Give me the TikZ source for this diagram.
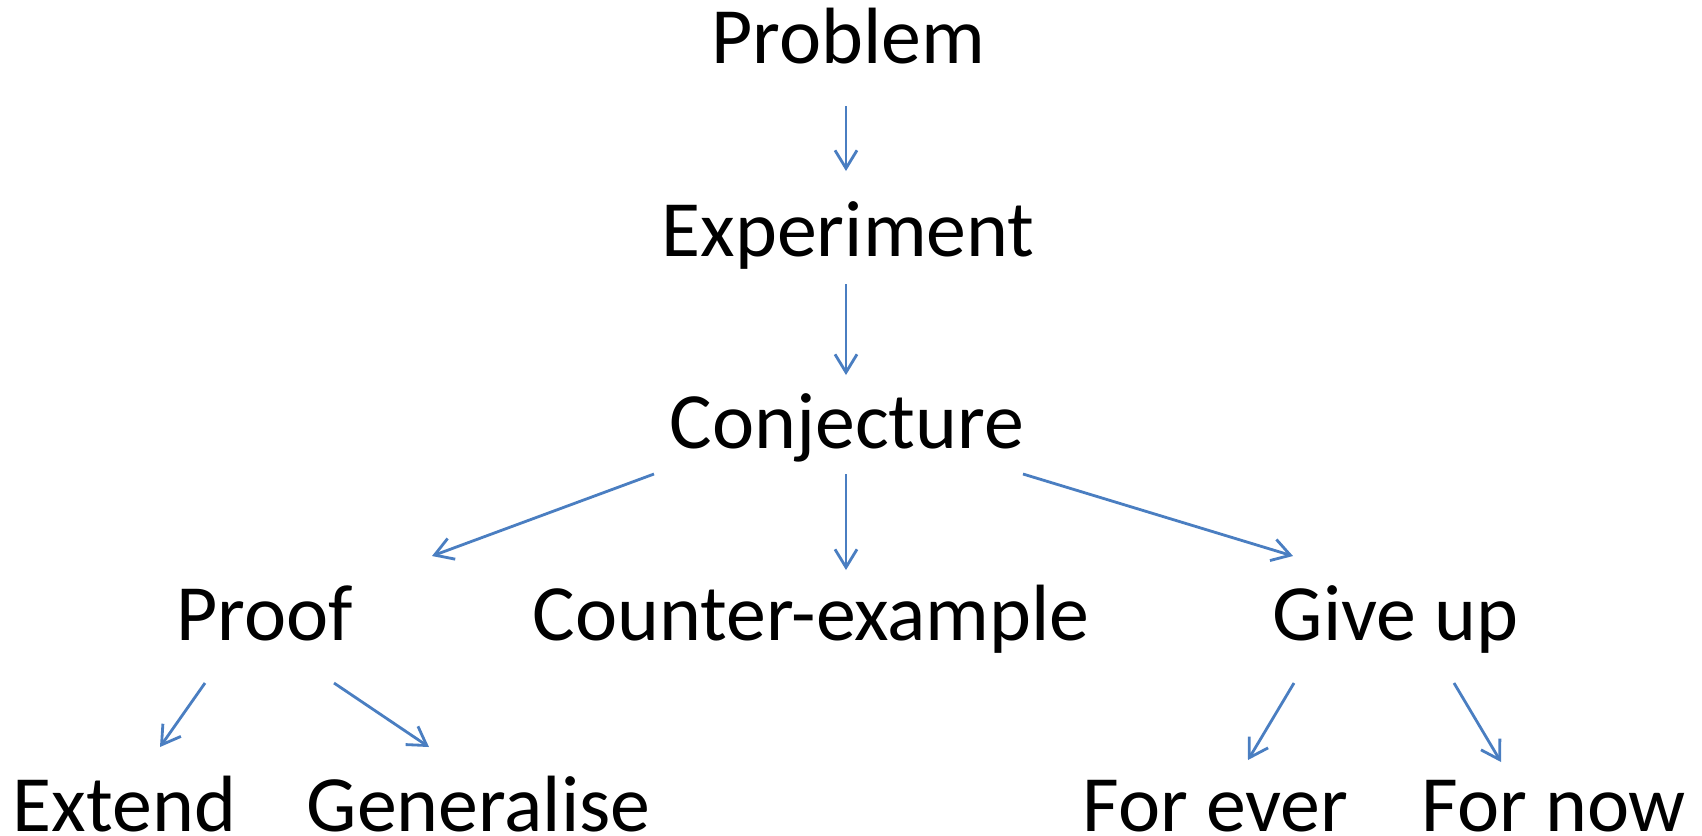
\documentclass[tikz,border=0pt]{standalone}
\usepackage{fontspec}
\setmainfont{Carlito}
\usetikzlibrary{arrows.meta}
\definecolor{arrowblue}{RGB}{74,126,193}
\tikzset{
  word/.style={anchor=base west, inner sep=0pt, font=\fontsize{22.7}{26}\selectfont},
  arr/.style={draw=arrowblue, line width=0.8pt, -{Straight Barb[length=0.18cm,width=0.22cm,line width=0.8pt]}}
}
\begin{document}
\begin{tikzpicture}[x=0.01cm,y=-0.01cm]
			\useasboundingbox (0,0) rectangle (1702,835);
			% words
			\node[word] (prob) at (711,63) {Problem};
			\node[word] (expt) at (661,256) {Experiment};
			\node[word] (conj) at (669,448) {Conjecture};
			\node[word] (proof) at (176,640) {Proof};
			\node[word] (cex) at (532,640) {Counter-example};
			\node[word] (giveup) at (1272,640) {Give up};
			\node[word] (ext) at (12,831) {Extend};
			\node[word] (gen) at (306,831) {Generalise};
			\node[word] (ever) at (1082,831) {For ever};
			\node[word] (now) at (1421,831) {For now};
		
			% arrow ends
			\coordinate (prob-e) at (846,106);   \coordinate (expt-w) at (846,171);
			\coordinate (expt-e) at (846,284);   \coordinate (conj-w) at (846,375);
			\coordinate (conj-a) at (654,474);   \coordinate (proof-w) at (432,556);
			\coordinate (conj-b) at (846,474);   \coordinate (cex-w) at (846,570);
			\coordinate (conj-c) at (1023,474);  \coordinate (giveup-w) at (1293,556);
			\coordinate (proof-a) at (205,683);  \coordinate (ext-w) at (160,747);
			\coordinate (proof-b) at (334,683);  \coordinate (gen-w) at (429,747);
			\coordinate (giveup-a) at (1294,683); \coordinate (ever-w) at (1248,760);
			\coordinate (giveup-b) at (1454,683); \coordinate (now-w) at (1501,762);
		
			\draw[arr] (prob-e) -- (expt-w);
			\draw[arr] (expt-e) -- (conj-w);
			\draw[arr] (conj-a) -- (proof-w);
			\draw[arr] (conj-b) -- (cex-w);
			\draw[arr] (conj-c) -- (giveup-w);
			\draw[arr] (proof-a) -- (ext-w);
			\draw[arr] (proof-b) -- (gen-w);
			\draw[arr] (giveup-a) -- (ever-w);
			\draw[arr] (giveup-b) -- (now-w);
		\end{tikzpicture}
\end{document}
